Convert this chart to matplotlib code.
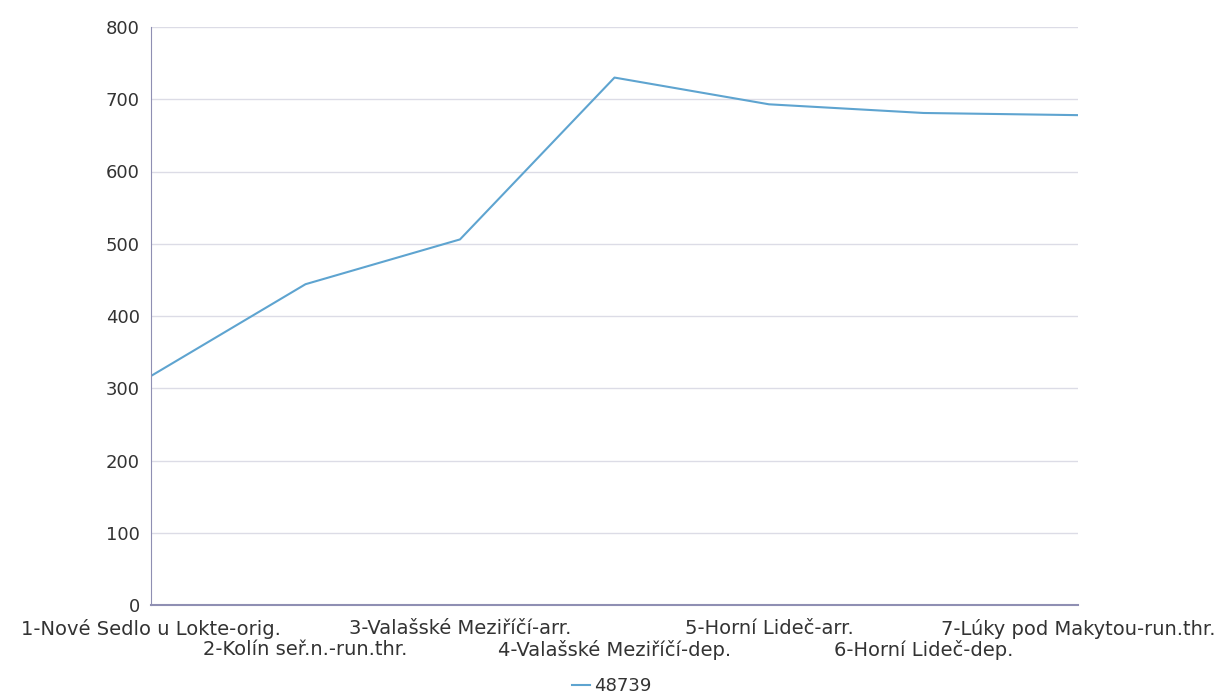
import matplotlib
matplotlib.use('Agg')
import matplotlib.pyplot as plt

# data
stations = ['1-Nové Sedlo u Lokte-orig.', '2-Kolín seř.n.-run.thr.', '3-Valašské Meziříčí-arr.',
            '4-Valašské Meziříčí-dep.', '5-Horní Lideč-arr.', '6-Horní Lideč-dep.',
            '7-Lúky pod Makytou-run.thr.']
values_48739 = [317, 444, 506, 730, 693, 681, 678]
series_name = '48739'
yticks = [0, 100, 200, 300, 400, 500, 600, 700, 800]

plt.rcParams['font.family'] = ['DejaVu Sans']

fig = plt.figure(figsize=(12.23, 6.97), dpi=100)
ax = fig.add_axes([151 / 1223, 92 / 697, 927 / 1223, 578 / 697])

x = list(range(len(stations)))
ax.plot(x, values_48739, color='#5ea4d0', lw=1.5, label=series_name)

ax.set_xlim(0, len(stations) - 1)
ax.set_ylim(0, 800)
ax.set_yticks(yticks)
ax.set_yticklabels([str(v) for v in yticks], fontsize=13, color='#333333')
ax.yaxis.grid(True, color='#dcdce6', lw=1)
ax.set_axisbelow(True)

# staggered category labels (two rows)
ax.set_xticks(x)
ax.set_xticklabels(stations, fontsize=14, color='#333333')
ax.tick_params(length=0)
ax.tick_params(axis='y', pad=8)
for i, tick in enumerate(ax.xaxis.get_major_ticks()):
    tick.set_pad(10 if i % 2 == 0 else 25)

for side in ['top', 'right']:
    ax.spines[side].set_visible(False)
ax.spines['left'].set_color('#8f8fb3')
ax.spines['bottom'].set_color('#8f8fb3')
ax.spines['bottom'].set_linewidth(1.5)

fig.legend(loc='center', bbox_to_anchor=(0.5, 11 / 697), frameon=False, fontsize=13,
           handlelength=1.0, handletextpad=0.2, labelcolor='#333333',
           borderpad=0.1, borderaxespad=0)

fig.savefig('out.png', dpi=100)
